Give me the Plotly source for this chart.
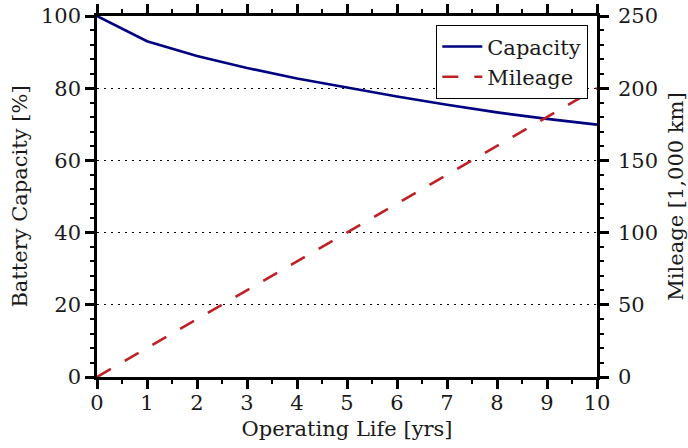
import plotly.graph_objects as go

# Battery ageing over the vehicle's operating life
years = [0, 1, 2, 3, 4, 5, 6, 7, 8, 9, 10]
capacity_pct = [100, 93.0, 88.9, 85.6, 82.7, 80.1, 77.7, 75.4, 73.3, 71.5, 69.9]
mileage_kkm = [0, 20, 40, 60, 80, 100, 120, 140, 160, 180, 200]

x_ticks = list(range(0, 11))
cap_ticks = [0, 20, 40, 60, 80, 100]
mil_ticks = [0, 50, 100, 150, 200, 250]

FONT = "DejaVu Serif"
TXT = "#1a1a1a"
AX_W = 2.5

fig = go.Figure()
fig.add_trace(go.Scatter(
    x=years, y=capacity_pct, name="Capacity", mode="lines",
    line=dict(color="#000080", width=2.6),
))
fig.add_trace(go.Scatter(
    x=years, y=mileage_kkm, name="Mileage", mode="lines", yaxis="y2",
    line=dict(color="#BE2026", width=2.6, dash="16px,16px"),
))

common = dict(
    ticks="outside", ticklen=9, tickwidth=AX_W, tickcolor="black",
    showline=True, linewidth=AX_W, linecolor="black",
    zeroline=False, automargin=False,
    tickfont=dict(family=FONT, size=21, color=TXT),
)
minor_common = dict(ticklen=4, tickwidth=2, ticks="outside",
                    tickcolor="black", showgrid=False)

fig.update_layout(
    width=688, height=448, autosize=False,
    margin=dict(l=97, r=91, t=16, b=71),
    plot_bgcolor="white", paper_bgcolor="white",
    showlegend=True,
    legend=dict(
        x=0.982, xanchor="right", y=0.975, yanchor="top",
        bgcolor="white", bordercolor="black", borderwidth=1.3,
        font=dict(family=FONT, size=21, color=TXT),
        itemwidth=40, tracegroupgap=0,
    ),
    xaxis=dict(
        range=[0, 10], tickvals=x_ticks, mirror="ticks", showgrid=False,
        ticklabelstandoff=-4,
        minor=dict(dtick=0.5, **minor_common),
        title=dict(text="Operating Life [yrs]", standoff=8,
                   font=dict(family=FONT, size=21, color=TXT)),
        **common,
    ),
    yaxis=dict(
        range=[0, 100], tickvals=cap_ticks,
        showgrid=True, gridcolor="black", gridwidth=1.3, griddash="2px,5px",
        minor=dict(dtick=4, **minor_common),
        title=dict(text="Battery Capacity [%]", standoff=8,
                   font=dict(family=FONT, size=21, color=TXT)),
        **common,
    ),
    yaxis2=dict(
        range=[0, 250], tickvals=mil_ticks, overlaying="y", side="right",
        showgrid=False, ticklabelstandoff=5,
        minor=dict(dtick=10, **minor_common),
        title=dict(text="Mileage [1,000 km]", standoff=12,
                   font=dict(family=FONT, size=21, color=TXT)),
        **common,
    ),
)

fig.write_html("out.html")
